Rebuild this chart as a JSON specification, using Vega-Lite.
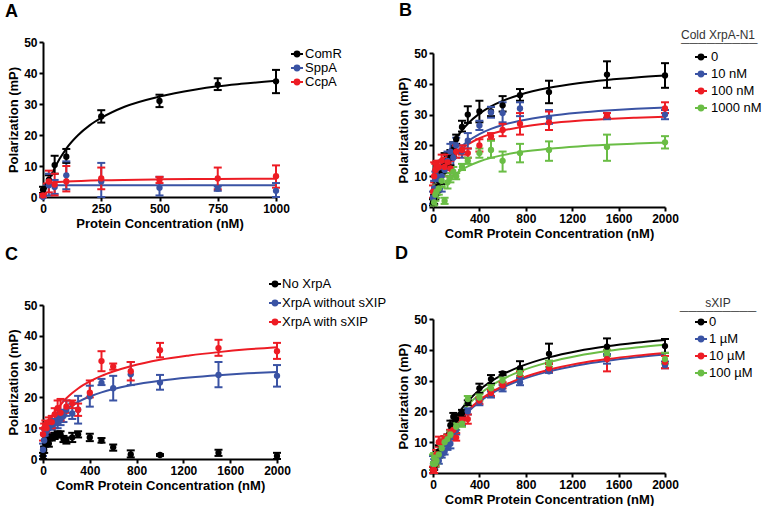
{
"$schema": "https://vega.github.io/schema/vega-lite/v6.json",
"padding": {"left": 5, "top": 2, "right": 0, "bottom": 0},
"background": "white",
"resolve": {"scale": {"color": "independent"}, "legend": {"color": "independent"}},
"datasets": {
"pts": [
{"p":"A","s":"ComR","x":0,"y":2.3,"lo":1.3,"hi":3.3},
{"p":"A","s":"ComR","x":25,"y":5.5,"lo":4,"hi":7},
{"p":"A","s":"ComR","x":50,"y":10.3,"lo":7.5,"hi":13.3},
{"p":"A","s":"ComR","x":100,"y":13,"lo":11,"hi":15.5},
{"p":"A","s":"ComR","x":250,"y":26,"lo":24,"hi":28},
{"p":"A","s":"ComR","x":500,"y":31,"lo":29,"hi":33},
{"p":"A","s":"ComR","x":750,"y":36.2,"lo":34.5,"hi":38.3},
{"p":"A","s":"ComR","x":1000,"y":37.3,"lo":33.5,"hi":41},
{"p":"A","s":"SppA","x":0,"y":0,"lo":0,"hi":0.5},
{"p":"A","s":"SppA","x":25,"y":3.8,"lo":0.5,"hi":7.5},
{"p":"A","s":"SppA","x":50,"y":3.2,"lo":1,"hi":5.5},
{"p":"A","s":"SppA","x":100,"y":7,"lo":2.5,"hi":11.5},
{"p":"A","s":"SppA","x":250,"y":5,"lo":0,"hi":11},
{"p":"A","s":"SppA","x":500,"y":3,"lo":0.5,"hi":6.5},
{"p":"A","s":"SppA","x":750,"y":2.7,"lo":2,"hi":3.4},
{"p":"A","s":"SppA","x":1000,"y":2,"lo":0,"hi":4.5},
{"p":"A","s":"CcpA","x":0,"y":0.5,"lo":0,"hi":1},
{"p":"A","s":"CcpA","x":25,"y":5,"lo":1.5,"hi":8.5},
{"p":"A","s":"CcpA","x":50,"y":4,"lo":0.5,"hi":7.5},
{"p":"A","s":"CcpA","x":100,"y":5,"lo":1.8,"hi":10},
{"p":"A","s":"CcpA","x":250,"y":6,"lo":2.5,"hi":9.5},
{"p":"A","s":"CcpA","x":500,"y":5.5,"lo":4.5,"hi":6.5},
{"p":"A","s":"CcpA","x":750,"y":6,"lo":2.5,"hi":9.5},
{"p":"A","s":"CcpA","x":1000,"y":6.7,"lo":3,"hi":10.2},
{"p":"B","s":"0","x":0,"y":1.5,"lo":0.5,"hi":2.5},
{"p":"B","s":"0","x":10,"y":2.5,"lo":1,"hi":4},
{"p":"B","s":"0","x":20,"y":4,"lo":2.5,"hi":5.5},
{"p":"B","s":"0","x":30,"y":5.5,"lo":4,"hi":7},
{"p":"B","s":"0","x":40,"y":6.5,"lo":5,"hi":8},
{"p":"B","s":"0","x":50,"y":8.5,"lo":6.5,"hi":10.5},
{"p":"B","s":"0","x":75,"y":11,"lo":7.5,"hi":15},
{"p":"B","s":"0","x":100,"y":14,"lo":11,"hi":17.5},
{"p":"B","s":"0","x":125,"y":15,"lo":13,"hi":17},
{"p":"B","s":"0","x":150,"y":16,"lo":13.5,"hi":18.5},
{"p":"B","s":"0","x":175,"y":18.5,"lo":16,"hi":21},
{"p":"B","s":"0","x":200,"y":22,"lo":20.5,"hi":23.5},
{"p":"B","s":"0","x":250,"y":26,"lo":24.5,"hi":28},
{"p":"B","s":"0","x":300,"y":30,"lo":27.3,"hi":32.7},
{"p":"B","s":"0","x":400,"y":31,"lo":27.5,"hi":34.5},
{"p":"B","s":"0","x":500,"y":31,"lo":29.5,"hi":32.5},
{"p":"B","s":"0","x":600,"y":33,"lo":31,"hi":36},
{"p":"B","s":"0","x":750,"y":36.3,"lo":34.5,"hi":38.3},
{"p":"B","s":"0","x":1000,"y":37.3,"lo":33.7,"hi":41},
{"p":"B","s":"0","x":1500,"y":43,"lo":38.7,"hi":47.3},
{"p":"B","s":"0","x":2000,"y":42.7,"lo":38.7,"hi":46.7},
{"p":"B","s":"10 nM","x":0,"y":3,"lo":1,"hi":5},
{"p":"B","s":"10 nM","x":10,"y":6,"lo":3.5,"hi":8.5},
{"p":"B","s":"10 nM","x":20,"y":9,"lo":6.5,"hi":11.5},
{"p":"B","s":"10 nM","x":30,"y":10,"lo":8,"hi":12},
{"p":"B","s":"10 nM","x":50,"y":9,"lo":6,"hi":12},
{"p":"B","s":"10 nM","x":75,"y":10,"lo":5,"hi":15},
{"p":"B","s":"10 nM","x":100,"y":12,"lo":10,"hi":14},
{"p":"B","s":"10 nM","x":125,"y":15,"lo":12,"hi":18},
{"p":"B","s":"10 nM","x":150,"y":18,"lo":15.5,"hi":20.5},
{"p":"B","s":"10 nM","x":175,"y":16,"lo":11,"hi":21},
{"p":"B","s":"10 nM","x":200,"y":20,"lo":17.5,"hi":22.5},
{"p":"B","s":"10 nM","x":250,"y":18,"lo":16,"hi":20},
{"p":"B","s":"10 nM","x":300,"y":21.5,"lo":19,"hi":24},
{"p":"B","s":"10 nM","x":400,"y":26.5,"lo":25,"hi":28},
{"p":"B","s":"10 nM","x":500,"y":30.7,"lo":29,"hi":32.5},
{"p":"B","s":"10 nM","x":600,"y":30.5,"lo":27.5,"hi":34},
{"p":"B","s":"10 nM","x":750,"y":32,"lo":29.5,"hi":34},
{"p":"B","s":"10 nM","x":1000,"y":29,"lo":27,"hi":31.5},
{"p":"B","s":"10 nM","x":1500,"y":29.5,"lo":28.5,"hi":30.5},
{"p":"B","s":"10 nM","x":2000,"y":30,"lo":28.5,"hi":31.5},
{"p":"B","s":"100 nM","x":0,"y":5,"lo":3,"hi":7},
{"p":"B","s":"100 nM","x":10,"y":10,"lo":8,"hi":14.5},
{"p":"B","s":"100 nM","x":20,"y":12,"lo":10,"hi":14},
{"p":"B","s":"100 nM","x":30,"y":12.5,"lo":10.5,"hi":15},
{"p":"B","s":"100 nM","x":50,"y":13,"lo":11,"hi":15},
{"p":"B","s":"100 nM","x":75,"y":15,"lo":13,"hi":17},
{"p":"B","s":"100 nM","x":100,"y":13,"lo":10,"hi":16},
{"p":"B","s":"100 nM","x":125,"y":14.5,"lo":12,"hi":17},
{"p":"B","s":"100 nM","x":150,"y":12.5,"lo":10,"hi":15},
{"p":"B","s":"100 nM","x":200,"y":18,"lo":16,"hi":20},
{"p":"B","s":"100 nM","x":250,"y":18.5,"lo":17,"hi":20},
{"p":"B","s":"100 nM","x":300,"y":17.5,"lo":16,"hi":19},
{"p":"B","s":"100 nM","x":400,"y":20,"lo":18,"hi":22},
{"p":"B","s":"100 nM","x":500,"y":23,"lo":22,"hi":24},
{"p":"B","s":"100 nM","x":600,"y":25,"lo":23,"hi":27},
{"p":"B","s":"100 nM","x":750,"y":27,"lo":23.5,"hi":30.5},
{"p":"B","s":"100 nM","x":1000,"y":27.5,"lo":25,"hi":31},
{"p":"B","s":"100 nM","x":1500,"y":29.7,"lo":29,"hi":30.5},
{"p":"B","s":"100 nM","x":2000,"y":32,"lo":30.5,"hi":34},
{"p":"B","s":"1000 nM","x":10,"y":1.5,"lo":0.5,"hi":2.5},
{"p":"B","s":"1000 nM","x":20,"y":4,"lo":2,"hi":6},
{"p":"B","s":"1000 nM","x":30,"y":5,"lo":3,"hi":7},
{"p":"B","s":"1000 nM","x":50,"y":6,"lo":4,"hi":8},
{"p":"B","s":"1000 nM","x":75,"y":8.5,"lo":6.5,"hi":10.5},
{"p":"B","s":"1000 nM","x":100,"y":2,"lo":1,"hi":3},
{"p":"B","s":"1000 nM","x":125,"y":8,"lo":6,"hi":10},
{"p":"B","s":"1000 nM","x":150,"y":9.5,"lo":8,"hi":11},
{"p":"B","s":"1000 nM","x":175,"y":11.5,"lo":10,"hi":13},
{"p":"B","s":"1000 nM","x":200,"y":10,"lo":9,"hi":11},
{"p":"B","s":"1000 nM","x":250,"y":13,"lo":12,"hi":14},
{"p":"B","s":"1000 nM","x":300,"y":15,"lo":14,"hi":16},
{"p":"B","s":"1000 nM","x":400,"y":17.5,"lo":16,"hi":19},
{"p":"B","s":"1000 nM","x":500,"y":18.5,"lo":16,"hi":21.5},
{"p":"B","s":"1000 nM","x":600,"y":15,"lo":11.5,"hi":18},
{"p":"B","s":"1000 nM","x":750,"y":17.5,"lo":14.5,"hi":20.5},
{"p":"B","s":"1000 nM","x":1000,"y":18.5,"lo":15,"hi":21.3},
{"p":"B","s":"1000 nM","x":1500,"y":19.5,"lo":15,"hi":23.5},
{"p":"B","s":"1000 nM","x":2000,"y":21,"lo":19,"hi":23},
{"p":"C","s":"No XrpA","x":0,"y":1,"lo":0,"hi":2},
{"p":"C","s":"No XrpA","x":10,"y":3,"lo":2,"hi":4},
{"p":"C","s":"No XrpA","x":20,"y":5,"lo":4,"hi":6},
{"p":"C","s":"No XrpA","x":30,"y":6,"lo":5,"hi":7},
{"p":"C","s":"No XrpA","x":50,"y":5,"lo":4,"hi":6},
{"p":"C","s":"No XrpA","x":75,"y":7,"lo":6,"hi":8},
{"p":"C","s":"No XrpA","x":100,"y":7.5,"lo":6.5,"hi":8.5},
{"p":"C","s":"No XrpA","x":125,"y":8,"lo":7,"hi":9},
{"p":"C","s":"No XrpA","x":150,"y":8,"lo":7,"hi":9},
{"p":"C","s":"No XrpA","x":175,"y":6.5,"lo":5.5,"hi":7.5},
{"p":"C","s":"No XrpA","x":200,"y":6,"lo":5,"hi":7},
{"p":"C","s":"No XrpA","x":250,"y":7,"lo":5.5,"hi":8.5},
{"p":"C","s":"No XrpA","x":300,"y":8,"lo":7,"hi":9},
{"p":"C","s":"No XrpA","x":400,"y":7,"lo":5.8,"hi":8.2},
{"p":"C","s":"No XrpA","x":500,"y":6,"lo":5.3,"hi":6.8},
{"p":"C","s":"No XrpA","x":600,"y":3.8,"lo":2.7,"hi":4.7},
{"p":"C","s":"No XrpA","x":750,"y":1.5,"lo":0.5,"hi":2.8},
{"p":"C","s":"No XrpA","x":1000,"y":1.3,"lo":1,"hi":1.6},
{"p":"C","s":"No XrpA","x":1500,"y":2,"lo":1,"hi":3},
{"p":"C","s":"No XrpA","x":2000,"y":1,"lo":0,"hi":2},
{"p":"C","s":"XrpA without sXIP","x":0,"y":3,"lo":1,"hi":5},
{"p":"C","s":"XrpA without sXIP","x":10,"y":6,"lo":4,"hi":8},
{"p":"C","s":"XrpA without sXIP","x":20,"y":8,"lo":6.5,"hi":9.5},
{"p":"C","s":"XrpA without sXIP","x":30,"y":9,"lo":7.5,"hi":10.5},
{"p":"C","s":"XrpA without sXIP","x":50,"y":10,"lo":8.5,"hi":11.5},
{"p":"C","s":"XrpA without sXIP","x":75,"y":11,"lo":9.5,"hi":12.5},
{"p":"C","s":"XrpA without sXIP","x":100,"y":11.5,"lo":10,"hi":13},
{"p":"C","s":"XrpA without sXIP","x":125,"y":12,"lo":10,"hi":14},
{"p":"C","s":"XrpA without sXIP","x":150,"y":13,"lo":11,"hi":15},
{"p":"C","s":"XrpA without sXIP","x":175,"y":14,"lo":12,"hi":16},
{"p":"C","s":"XrpA without sXIP","x":200,"y":16,"lo":14,"hi":19},
{"p":"C","s":"XrpA without sXIP","x":250,"y":14.8,"lo":13,"hi":18},
{"p":"C","s":"XrpA without sXIP","x":300,"y":16,"lo":11.5,"hi":20.5},
{"p":"C","s":"XrpA without sXIP","x":400,"y":20.3,"lo":17,"hi":23.8},
{"p":"C","s":"XrpA without sXIP","x":500,"y":24.7,"lo":24,"hi":26},
{"p":"C","s":"XrpA without sXIP","x":600,"y":23,"lo":19,"hi":27},
{"p":"C","s":"XrpA without sXIP","x":750,"y":27.5,"lo":24,"hi":31.5},
{"p":"C","s":"XrpA without sXIP","x":1000,"y":24.8,"lo":22.5,"hi":27.3},
{"p":"C","s":"XrpA without sXIP","x":1500,"y":27.3,"lo":23.3,"hi":31.5},
{"p":"C","s":"XrpA without sXIP","x":2000,"y":27,"lo":23.5,"hi":30.5},
{"p":"C","s":"XrpA with sXIP","x":0,"y":8,"lo":6,"hi":10},
{"p":"C","s":"XrpA with sXIP","x":10,"y":10,"lo":8.5,"hi":11.5},
{"p":"C","s":"XrpA with sXIP","x":20,"y":11,"lo":9.5,"hi":12.5},
{"p":"C","s":"XrpA with sXIP","x":30,"y":10,"lo":8.5,"hi":11.5},
{"p":"C","s":"XrpA with sXIP","x":50,"y":12,"lo":10.5,"hi":13.5},
{"p":"C","s":"XrpA with sXIP","x":75,"y":12,"lo":10,"hi":14},
{"p":"C","s":"XrpA with sXIP","x":100,"y":14.5,"lo":12.5,"hi":16.5},
{"p":"C","s":"XrpA with sXIP","x":125,"y":16.5,"lo":14,"hi":19},
{"p":"C","s":"XrpA with sXIP","x":150,"y":15,"lo":12.5,"hi":19.5},
{"p":"C","s":"XrpA with sXIP","x":200,"y":17,"lo":15,"hi":19},
{"p":"C","s":"XrpA with sXIP","x":250,"y":18,"lo":16.5,"hi":19},
{"p":"C","s":"XrpA with sXIP","x":300,"y":16,"lo":14,"hi":18},
{"p":"C","s":"XrpA with sXIP","x":400,"y":21.5,"lo":20,"hi":25.5},
{"p":"C","s":"XrpA with sXIP","x":500,"y":31.8,"lo":28.5,"hi":35},
{"p":"C","s":"XrpA with sXIP","x":600,"y":30,"lo":29,"hi":31},
{"p":"C","s":"XrpA with sXIP","x":750,"y":28.5,"lo":25.5,"hi":31.5},
{"p":"C","s":"XrpA with sXIP","x":1000,"y":35.3,"lo":33,"hi":37.7},
{"p":"C","s":"XrpA with sXIP","x":1500,"y":36,"lo":33.5,"hi":38.7},
{"p":"C","s":"XrpA with sXIP","x":2000,"y":35,"lo":32.5,"hi":37.7},
{"p":"D","s":"0","x":0,"y":1,"lo":0,"hi":2},
{"p":"D","s":"0","x":10,"y":2,"lo":1,"hi":3},
{"p":"D","s":"0","x":20,"y":3,"lo":2,"hi":4},
{"p":"D","s":"0","x":30,"y":5,"lo":3.5,"hi":6.5},
{"p":"D","s":"0","x":50,"y":7,"lo":5,"hi":9},
{"p":"D","s":"0","x":75,"y":7.5,"lo":6,"hi":9},
{"p":"D","s":"0","x":100,"y":10.5,"lo":9,"hi":12},
{"p":"D","s":"0","x":125,"y":11,"lo":9.5,"hi":12.5},
{"p":"D","s":"0","x":150,"y":15.5,"lo":14,"hi":17},
{"p":"D","s":"0","x":175,"y":18.3,"lo":17,"hi":19.5},
{"p":"D","s":"0","x":200,"y":17.5,"lo":16,"hi":19},
{"p":"D","s":"0","x":250,"y":19.5,"lo":18.5,"hi":20.5},
{"p":"D","s":"0","x":300,"y":22.8,"lo":22,"hi":23.6},
{"p":"D","s":"0","x":400,"y":27.5,"lo":26,"hi":29},
{"p":"D","s":"0","x":500,"y":30.5,"lo":29,"hi":31.8},
{"p":"D","s":"0","x":600,"y":32.3,"lo":31.8,"hi":32.8},
{"p":"D","s":"0","x":750,"y":34,"lo":31.5,"hi":36.3},
{"p":"D","s":"0","x":1000,"y":38.7,"lo":35.5,"hi":42},
{"p":"D","s":"0","x":1500,"y":41,"lo":38.5,"hi":43.7},
{"p":"D","s":"0","x":2000,"y":41.2,"lo":39,"hi":43.5},
{"p":"D","s":"1 µM","x":0,"y":3,"lo":1,"hi":5.5},
{"p":"D","s":"1 µM","x":10,"y":3,"lo":1.5,"hi":4.5},
{"p":"D","s":"1 µM","x":20,"y":4,"lo":2.5,"hi":5.5},
{"p":"D","s":"1 µM","x":30,"y":5,"lo":3.5,"hi":6.5},
{"p":"D","s":"1 µM","x":50,"y":4,"lo":3,"hi":5},
{"p":"D","s":"1 µM","x":75,"y":6,"lo":5,"hi":7},
{"p":"D","s":"1 µM","x":100,"y":7,"lo":6,"hi":8},
{"p":"D","s":"1 µM","x":125,"y":9,"lo":7.5,"hi":10.5},
{"p":"D","s":"1 µM","x":150,"y":9.5,"lo":8,"hi":11},
{"p":"D","s":"1 µM","x":175,"y":12.5,"lo":11,"hi":14},
{"p":"D","s":"1 µM","x":200,"y":14,"lo":12.5,"hi":15.5},
{"p":"D","s":"1 µM","x":250,"y":16.5,"lo":15.5,"hi":17.5},
{"p":"D","s":"1 µM","x":300,"y":20,"lo":19,"hi":21},
{"p":"D","s":"1 µM","x":400,"y":23,"lo":22,"hi":24},
{"p":"D","s":"1 µM","x":500,"y":25.5,"lo":24.5,"hi":26.5},
{"p":"D","s":"1 µM","x":600,"y":27.5,"lo":26.5,"hi":28.5},
{"p":"D","s":"1 µM","x":750,"y":29.5,"lo":28.5,"hi":30.8},
{"p":"D","s":"1 µM","x":1000,"y":33,"lo":32.5,"hi":33.5},
{"p":"D","s":"1 µM","x":1500,"y":37,"lo":35.5,"hi":38.5},
{"p":"D","s":"1 µM","x":2000,"y":35,"lo":34,"hi":36.2},
{"p":"D","s":"10 µM","x":0,"y":1,"lo":0,"hi":2},
{"p":"D","s":"10 µM","x":10,"y":1,"lo":0,"hi":2},
{"p":"D","s":"10 µM","x":20,"y":4,"lo":2.5,"hi":5.5},
{"p":"D","s":"10 µM","x":30,"y":6,"lo":4.5,"hi":7.5},
{"p":"D","s":"10 µM","x":50,"y":10,"lo":8.5,"hi":11.8},
{"p":"D","s":"10 µM","x":75,"y":10,"lo":9,"hi":11},
{"p":"D","s":"10 µM","x":100,"y":11,"lo":10,"hi":12},
{"p":"D","s":"10 µM","x":125,"y":11.5,"lo":10.5,"hi":12.5},
{"p":"D","s":"10 µM","x":150,"y":13,"lo":12,"hi":14},
{"p":"D","s":"10 µM","x":175,"y":14,"lo":13,"hi":15},
{"p":"D","s":"10 µM","x":200,"y":11.5,"lo":10.5,"hi":13},
{"p":"D","s":"10 µM","x":250,"y":17,"lo":16,"hi":18},
{"p":"D","s":"10 µM","x":300,"y":17.5,"lo":16,"hi":19},
{"p":"D","s":"10 µM","x":400,"y":23.5,"lo":22.5,"hi":24.5},
{"p":"D","s":"10 µM","x":500,"y":26,"lo":25,"hi":27},
{"p":"D","s":"10 µM","x":600,"y":28.5,"lo":27.5,"hi":29.5},
{"p":"D","s":"10 µM","x":750,"y":32,"lo":31,"hi":33},
{"p":"D","s":"10 µM","x":1000,"y":34,"lo":33,"hi":35.5},
{"p":"D","s":"10 µM","x":1500,"y":37,"lo":33,"hi":40},
{"p":"D","s":"10 µM","x":2000,"y":36,"lo":34,"hi":38},
{"p":"D","s":"100 µM","x":0,"y":3,"lo":1,"hi":6},
{"p":"D","s":"100 µM","x":10,"y":5,"lo":3.5,"hi":6.5},
{"p":"D","s":"100 µM","x":20,"y":3,"lo":2,"hi":4},
{"p":"D","s":"100 µM","x":30,"y":4,"lo":3,"hi":5},
{"p":"D","s":"100 µM","x":50,"y":6,"lo":5,"hi":7},
{"p":"D","s":"100 µM","x":75,"y":8,"lo":7,"hi":9},
{"p":"D","s":"100 µM","x":100,"y":10,"lo":9,"hi":11},
{"p":"D","s":"100 µM","x":125,"y":11,"lo":10,"hi":12},
{"p":"D","s":"100 µM","x":150,"y":12.5,"lo":11.5,"hi":13.5},
{"p":"D","s":"100 µM","x":200,"y":15,"lo":14,"hi":16},
{"p":"D","s":"100 µM","x":250,"y":16,"lo":15,"hi":17},
{"p":"D","s":"100 µM","x":300,"y":24,"lo":22.5,"hi":25},
{"p":"D","s":"100 µM","x":400,"y":24.5,"lo":23.5,"hi":25.5},
{"p":"D","s":"100 µM","x":500,"y":27.5,"lo":26.5,"hi":28.5},
{"p":"D","s":"100 µM","x":600,"y":30,"lo":29,"hi":31},
{"p":"D","s":"100 µM","x":750,"y":32.5,"lo":31.5,"hi":33.5},
{"p":"D","s":"100 µM","x":1000,"y":35.5,"lo":34.5,"hi":36.5},
{"p":"D","s":"100 µM","x":1500,"y":39,"lo":38,"hi":40},
{"p":"D","s":"100 µM","x":2000,"y":37,"lo":35.5,"hi":39}
],
"fit": [
{"p":"A","s":"ComR","x":0,"y":0},{"p":"A","s":"ComR","x":25,"y":5.3},{"p":"A","s":"ComR","x":50,"y":9.4},{"p":"A","s":"ComR","x":100,"y":15.6},{"p":"A","s":"ComR","x":150,"y":19.9},{"p":"A","s":"ComR","x":200,"y":23.1},{"p":"A","s":"ComR","x":250,"y":25.5},{"p":"A","s":"ComR","x":350,"y":29.1},{"p":"A","s":"ComR","x":500,"y":32.4},{"p":"A","s":"ComR","x":650,"y":34.6},{"p":"A","s":"ComR","x":750,"y":35.7},{"p":"A","s":"ComR","x":850,"y":36.5},{"p":"A","s":"ComR","x":1000,"y":37.5},
{"p":"A","s":"SppA","x":0,"y":3.8},{"p":"A","s":"SppA","x":1000,"y":3.8},
{"p":"A","s":"CcpA","x":0,"y":4.3},{"p":"A","s":"CcpA","x":50,"y":4.8},{"p":"A","s":"CcpA","x":100,"y":5.0},{"p":"A","s":"CcpA","x":250,"y":5.4},{"p":"A","s":"CcpA","x":500,"y":5.7},{"p":"A","s":"CcpA","x":750,"y":5.8},{"p":"A","s":"CcpA","x":1000,"y":5.9},
{"p":"B","s":"0","x":0,"y":0},{"p":"B","s":"0","x":25,"y":4.71},{"p":"B","s":"0","x":50,"y":8.57},{"p":"B","s":"0","x":100,"y":14.53},{"p":"B","s":"0","x":150,"y":18.9},{"p":"B","s":"0","x":200,"y":22.25},{"p":"B","s":"0","x":250,"y":24.9},{"p":"B","s":"0","x":300,"y":27.04},{"p":"B","s":"0","x":400,"y":30.3},{"p":"B","s":"0","x":500,"y":32.67},{"p":"B","s":"0","x":600,"y":34.46},{"p":"B","s":"0","x":750,"y":36.46},{"p":"B","s":"0","x":1000,"y":38.71},{"p":"B","s":"0","x":1250,"y":40.2},{"p":"B","s":"0","x":1500,"y":41.26},{"p":"B","s":"0","x":1750,"y":42.05},{"p":"B","s":"0","x":2000,"y":42.66},
{"p":"B","s":"10 nM","x":0,"y":0},{"p":"B","s":"10 nM","x":25,"y":3.94},{"p":"B","s":"10 nM","x":50,"y":7.1},{"p":"B","s":"10 nM","x":100,"y":11.83},{"p":"B","s":"10 nM","x":150,"y":15.21},{"p":"B","s":"10 nM","x":200,"y":17.75},{"p":"B","s":"10 nM","x":250,"y":19.72},{"p":"B","s":"10 nM","x":300,"y":21.3},{"p":"B","s":"10 nM","x":400,"y":23.67},{"p":"B","s":"10 nM","x":500,"y":25.36},{"p":"B","s":"10 nM","x":600,"y":26.63},{"p":"B","s":"10 nM","x":750,"y":28.03},{"p":"B","s":"10 nM","x":1000,"y":29.58},{"p":"B","s":"10 nM","x":1250,"y":30.6},{"p":"B","s":"10 nM","x":1500,"y":31.32},{"p":"B","s":"10 nM","x":1750,"y":31.86},{"p":"B","s":"10 nM","x":2000,"y":32.27},
{"p":"B","s":"100 nM","x":0,"y":0},{"p":"B","s":"100 nM","x":25,"y":4.08},{"p":"B","s":"100 nM","x":50,"y":7.23},{"p":"B","s":"100 nM","x":100,"y":11.78},{"p":"B","s":"100 nM","x":150,"y":14.91},{"p":"B","s":"100 nM","x":200,"y":17.19},{"p":"B","s":"100 nM","x":250,"y":18.93},{"p":"B","s":"100 nM","x":300,"y":20.3},{"p":"B","s":"100 nM","x":400,"y":22.32},{"p":"B","s":"100 nM","x":500,"y":23.73},{"p":"B","s":"100 nM","x":600,"y":24.78},{"p":"B","s":"100 nM","x":750,"y":25.92},{"p":"B","s":"100 nM","x":1000,"y":27.18},{"p":"B","s":"100 nM","x":1250,"y":27.99},{"p":"B","s":"100 nM","x":1500,"y":28.56},{"p":"B","s":"100 nM","x":1750,"y":28.98},{"p":"B","s":"100 nM","x":2000,"y":29.31},
{"p":"B","s":"1000 nM","x":0,"y":0},{"p":"B","s":"1000 nM","x":25,"y":2.28},{"p":"B","s":"1000 nM","x":50,"y":4.16},{"p":"B","s":"1000 nM","x":100,"y":7.06},{"p":"B","s":"1000 nM","x":150,"y":9.2},{"p":"B","s":"1000 nM","x":200,"y":10.84},{"p":"B","s":"1000 nM","x":250,"y":12.14},{"p":"B","s":"1000 nM","x":300,"y":13.19},{"p":"B","s":"1000 nM","x":400,"y":14.79},{"p":"B","s":"1000 nM","x":500,"y":15.96},{"p":"B","s":"1000 nM","x":600,"y":16.84},{"p":"B","s":"1000 nM","x":750,"y":17.83},{"p":"B","s":"1000 nM","x":1000,"y":18.94},{"p":"B","s":"1000 nM","x":1250,"y":19.68},{"p":"B","s":"1000 nM","x":1500,"y":20.2},{"p":"B","s":"1000 nM","x":1750,"y":20.59},{"p":"B","s":"1000 nM","x":2000,"y":20.9},
{"p":"C","s":"XrpA without sXIP","x":0,"y":8},{"p":"C","s":"XrpA without sXIP","x":25,"y":9.46},{"p":"C","s":"XrpA without sXIP","x":50,"y":10.76},{"p":"C","s":"XrpA without sXIP","x":100,"y":12.96},{"p":"C","s":"XrpA without sXIP","x":150,"y":14.75},{"p":"C","s":"XrpA without sXIP","x":200,"y":16.23},{"p":"C","s":"XrpA without sXIP","x":250,"y":17.48},{"p":"C","s":"XrpA without sXIP","x":300,"y":18.55},{"p":"C","s":"XrpA without sXIP","x":400,"y":20.28},{"p":"C","s":"XrpA without sXIP","x":500,"y":21.63},{"p":"C","s":"XrpA without sXIP","x":600,"y":22.7},{"p":"C","s":"XrpA without sXIP","x":750,"y":23.95},{"p":"C","s":"XrpA without sXIP","x":1000,"y":25.44},{"p":"C","s":"XrpA without sXIP","x":1250,"y":26.47},{"p":"C","s":"XrpA without sXIP","x":1500,"y":27.23},{"p":"C","s":"XrpA without sXIP","x":1750,"y":27.81},{"p":"C","s":"XrpA without sXIP","x":2000,"y":28.27},
{"p":"C","s":"XrpA with sXIP","x":0,"y":8.5},{"p":"C","s":"XrpA with sXIP","x":25,"y":10.5},{"p":"C","s":"XrpA with sXIP","x":50,"y":12.3},{"p":"C","s":"XrpA with sXIP","x":100,"y":15.2},{"p":"C","s":"XrpA with sXIP","x":150,"y":17.6},{"p":"C","s":"XrpA with sXIP","x":200,"y":19.7},{"p":"C","s":"XrpA with sXIP","x":250,"y":21.4},{"p":"C","s":"XrpA with sXIP","x":300,"y":22.9},{"p":"C","s":"XrpA with sXIP","x":400,"y":25.2},{"p":"C","s":"XrpA with sXIP","x":500,"y":27.0},{"p":"C","s":"XrpA with sXIP","x":600,"y":28.4},{"p":"C","s":"XrpA with sXIP","x":750,"y":30.1},{"p":"C","s":"XrpA with sXIP","x":1000,"y":32.2},{"p":"C","s":"XrpA with sXIP","x":1250,"y":33.6},{"p":"C","s":"XrpA with sXIP","x":1500,"y":34.7},{"p":"C","s":"XrpA with sXIP","x":1750,"y":35.6},{"p":"C","s":"XrpA with sXIP","x":2000,"y":36.3},
{"p":"D","s":"0","x":0,"y":0},{"p":"D","s":"0","x":25,"y":3.34},{"p":"D","s":"0","x":50,"y":6.27},{"p":"D","s":"0","x":100,"y":11.16},{"p":"D","s":"0","x":150,"y":15.09},{"p":"D","s":"0","x":200,"y":18.31},{"p":"D","s":"0","x":250,"y":21.0},{"p":"D","s":"0","x":300,"y":23.28},{"p":"D","s":"0","x":400,"y":26.93},{"p":"D","s":"0","x":500,"y":29.73},{"p":"D","s":"0","x":600,"y":31.95},{"p":"D","s":"0","x":750,"y":34.52},{"p":"D","s":"0","x":1000,"y":37.54},{"p":"D","s":"0","x":1250,"y":39.62},{"p":"D","s":"0","x":1500,"y":41.14},{"p":"D","s":"0","x":1750,"y":42.3},{"p":"D","s":"0","x":2000,"y":43.21},
{"p":"D","s":"1 µM","x":0,"y":0},{"p":"D","s":"1 µM","x":25,"y":2.72},{"p":"D","s":"1 µM","x":50,"y":5.13},{"p":"D","s":"1 µM","x":100,"y":9.24},{"p":"D","s":"1 µM","x":150,"y":12.6},{"p":"D","s":"1 µM","x":200,"y":15.4},{"p":"D","s":"1 µM","x":250,"y":17.77},{"p":"D","s":"1 µM","x":300,"y":19.8},{"p":"D","s":"1 µM","x":400,"y":23.1},{"p":"D","s":"1 µM","x":500,"y":25.67},{"p":"D","s":"1 µM","x":600,"y":27.72},{"p":"D","s":"1 µM","x":750,"y":30.13},{"p":"D","s":"1 µM","x":1000,"y":33.0},{"p":"D","s":"1 µM","x":1250,"y":35.0},{"p":"D","s":"1 µM","x":1500,"y":36.47},{"p":"D","s":"1 µM","x":1750,"y":37.6},{"p":"D","s":"1 µM","x":2000,"y":38.5},
{"p":"D","s":"10 µM","x":0,"y":0},{"p":"D","s":"10 µM","x":25,"y":2.81},{"p":"D","s":"10 µM","x":50,"y":5.3},{"p":"D","s":"10 µM","x":100,"y":9.51},{"p":"D","s":"10 µM","x":150,"y":12.94},{"p":"D","s":"10 µM","x":200,"y":15.8},{"p":"D","s":"10 µM","x":250,"y":18.2},{"p":"D","s":"10 µM","x":300,"y":20.26},{"p":"D","s":"10 µM","x":400,"y":23.59},{"p":"D","s":"10 µM","x":500,"y":26.18},{"p":"D","s":"10 µM","x":600,"y":28.24},{"p":"D","s":"10 µM","x":750,"y":30.66},{"p":"D","s":"10 µM","x":1000,"y":33.53},{"p":"D","s":"10 µM","x":1250,"y":35.52},{"p":"D","s":"10 µM","x":1500,"y":36.98},{"p":"D","s":"10 µM","x":1750,"y":38.11},{"p":"D","s":"10 µM","x":2000,"y":39.0},
{"p":"D","s":"100 µM","x":0,"y":0},{"p":"D","s":"100 µM","x":25,"y":3.09},{"p":"D","s":"100 µM","x":50,"y":5.82},{"p":"D","s":"100 µM","x":100,"y":10.42},{"p":"D","s":"100 µM","x":150,"y":14.14},{"p":"D","s":"100 µM","x":200,"y":17.22},{"p":"D","s":"100 µM","x":250,"y":19.8},{"p":"D","s":"100 µM","x":300,"y":22.0},{"p":"D","s":"100 µM","x":400,"y":25.55},{"p":"D","s":"100 µM","x":500,"y":28.29},{"p":"D","s":"100 µM","x":600,"y":30.46},{"p":"D","s":"100 µM","x":750,"y":33.0},{"p":"D","s":"100 µM","x":1000,"y":36.0},{"p":"D","s":"100 µM","x":1250,"y":38.08},{"p":"D","s":"100 µM","x":1500,"y":39.6},{"p":"D","s":"100 µM","x":1750,"y":40.76},{"p":"D","s":"100 µM","x":2000,"y":41.68}
]
},
"columns": 2,
"spacing": {"row": 5, "column": 8},
"concat": [
{
"name": "pA",
"width": 233, "height": 155,
"title": {"text": "A", "anchor": "start", "frame": "group", "dx": -38, "offset": 15},
"layer": [
{"data": {"name": "fit"}, "transform": [{"filter": "datum.p == 'A'"}],
 "mark": {"type": "line", "interpolate": "monotone", "strokeWidth": 2},
 "encoding": {
  "x": {"field": "x", "type": "quantitative", "scale": {"domain": [0, 1000], "nice": false}, "axis": {"values": [0, 250, 500, 750, 1000], "format": "d", "title": "Protein Concentration (nM)"}},
  "y": {"field": "y", "type": "quantitative", "scale": {"domain": [0, 50], "nice": false}, "axis": {"values": [0, 10, 20, 30, 40, 50], "tickCount": 6, "labelOverlap": false, "format": "d", "title": "Polarization (mP)"}},
  "color": {"field": "s", "type": "nominal", "scale": {"domain": ["ComR", "SppA", "CcpA"], "range": ["#000000", "#3a53a4", "#ed1c24"]},
   "legend": {"orient": "none", "legendX": 247, "legendY": 5, "title": null, "rowPadding": 0, "labelOffset": 1}}
 }},
{"data": {"name": "pts"}, "transform": [{"filter": "datum.p == 'A'"}],
 "mark": {"type": "rule", "strokeWidth": 2},
 "encoding": {"x": {"field": "x", "type": "quantitative"}, "y": {"field": "lo", "type": "quantitative", "axis": {"values": [0, 10, 20, 30, 40, 50], "tickCount": 6, "labelOverlap": false, "format": "d", "title": "Polarization (mP)"}}, "y2": {"field": "hi"}, "color": {"field": "s", "type": "nominal"}}},
{"data": {"name": "pts"}, "transform": [{"filter": "datum.p == 'A'"}],
 "mark": {"type": "point", "shape": "stroke", "size": 64, "strokeWidth": 2, "filled": false, "opacity": 1},
 "encoding": {"x": {"field": "x", "type": "quantitative"}, "y": {"field": "lo", "type": "quantitative", "axis": {"values": [0, 10, 20, 30, 40, 50], "tickCount": 6, "labelOverlap": false, "format": "d", "title": "Polarization (mP)"}}, "color": {"field": "s", "type": "nominal"}}},
{"data": {"name": "pts"}, "transform": [{"filter": "datum.p == 'A'"}],
 "mark": {"type": "point", "shape": "stroke", "size": 64, "strokeWidth": 2, "filled": false, "opacity": 1},
 "encoding": {"x": {"field": "x", "type": "quantitative"}, "y": {"field": "hi", "type": "quantitative", "axis": {"values": [0, 10, 20, 30, 40, 50], "tickCount": 6, "labelOverlap": false, "format": "d", "title": "Polarization (mP)"}}, "color": {"field": "s", "type": "nominal"}}},
{"data": {"name": "pts"}, "transform": [{"filter": "datum.p == 'A'"}],
 "mark": {"type": "point", "filled": true, "size": 40, "opacity": 1},
 "encoding": {"x": {"field": "x", "type": "quantitative"}, "y": {"field": "y", "type": "quantitative", "axis": {"values": [0, 10, 20, 30, 40, 50], "tickCount": 6, "labelOverlap": false, "format": "d", "title": "Polarization (mP)"}}, "color": {"field": "s", "type": "nominal"}}}
]
},
{
"name": "pB",
"width": 232, "height": 165,
"title": {"text": "B", "anchor": "start", "frame": "group", "dx": -34, "offset": 10},
"layer": [
{"data": {"name": "fit"}, "transform": [{"filter": "datum.p == 'B'"}],
 "mark": {"type": "line", "interpolate": "monotone", "strokeWidth": 2},
 "encoding": {
  "x": {"field": "x", "type": "quantitative", "scale": {"domain": [0, 2000], "nice": false}, "axis": {"values": [0, 400, 800, 1200, 1600, 2000], "format": "d", "title": "ComR Protein Concentration (nM)"}},
  "y": {"field": "y", "type": "quantitative", "scale": {"domain": [0, 50], "nice": false, "range": [165, 11]}, "axis": {"values": [0, 10, 20, 30, 40, 50], "tickCount": 6, "labelOverlap": false, "format": "d", "title": "Polarization (mP)"}},
  "color": {"field": "s", "type": "nominal", "scale": {"domain": ["0", "10 nM", "100 nM", "1000 nM"], "range": ["#000000", "#3a53a4", "#ed1c24", "#6abd45"]},
   "legend": {"orient": "none", "legendX": 248, "legendY": -12, "title": ["Cold XrpA-N1", "─────────"], "titleAnchor": "start", "titleLineHeight": 8, "titlePadding": 0, "symbolOffset": 13, "rowPadding": 3, "labelOffset": 3}}
 }},
{"data": {"name": "pts"}, "transform": [{"filter": "datum.p == 'B'"}],
 "mark": {"type": "rule", "strokeWidth": 2},
 "encoding": {"x": {"field": "x", "type": "quantitative"}, "y": {"field": "lo", "type": "quantitative", "axis": {"values": [0, 10, 20, 30, 40, 50], "tickCount": 6, "labelOverlap": false, "format": "d", "title": "Polarization (mP)"}}, "y2": {"field": "hi"}, "color": {"field": "s", "type": "nominal"}}},
{"data": {"name": "pts"}, "transform": [{"filter": "datum.p == 'B'"}],
 "mark": {"type": "point", "shape": "stroke", "size": 64, "strokeWidth": 2, "filled": false, "opacity": 1},
 "encoding": {"x": {"field": "x", "type": "quantitative"}, "y": {"field": "lo", "type": "quantitative", "axis": {"values": [0, 10, 20, 30, 40, 50], "tickCount": 6, "labelOverlap": false, "format": "d", "title": "Polarization (mP)"}}, "color": {"field": "s", "type": "nominal"}}},
{"data": {"name": "pts"}, "transform": [{"filter": "datum.p == 'B'"}],
 "mark": {"type": "point", "shape": "stroke", "size": 64, "strokeWidth": 2, "filled": false, "opacity": 1},
 "encoding": {"x": {"field": "x", "type": "quantitative"}, "y": {"field": "hi", "type": "quantitative", "axis": {"values": [0, 10, 20, 30, 40, 50], "tickCount": 6, "labelOverlap": false, "format": "d", "title": "Polarization (mP)"}}, "color": {"field": "s", "type": "nominal"}}},
{"data": {"name": "pts"}, "transform": [{"filter": "datum.p == 'B'"}],
 "mark": {"type": "point", "filled": true, "size": 40, "opacity": 1},
 "encoding": {"x": {"field": "x", "type": "quantitative"}, "y": {"field": "y", "type": "quantitative", "axis": {"values": [0, 10, 20, 30, 40, 50], "tickCount": 6, "labelOverlap": false, "format": "d", "title": "Polarization (mP)"}}, "color": {"field": "s", "type": "nominal"}}}
]
},
{
"name": "pC",
"width": 234, "height": 154,
"title": {"text": "C", "anchor": "start", "frame": "group", "dx": -38, "offset": 13},
"layer": [
{"data": {"name": "fit"}, "transform": [{"filter": "datum.p == 'C'"}],
 "mark": {"type": "line", "interpolate": "monotone", "strokeWidth": 2},
 "encoding": {
  "x": {"field": "x", "type": "quantitative", "scale": {"domain": [0, 2000], "nice": false}, "axis": {"values": [0, 400, 800, 1200, 1600, 2000], "format": "d", "title": "ComR Protein Concentration (nM)"}},
  "y": {"field": "y", "type": "quantitative", "scale": {"domain": [0, 50], "nice": false}, "axis": {"values": [0, 10, 20, 30, 40, 50], "tickCount": 6, "labelOverlap": false, "format": "d", "title": "Polarization (mP)"}},
  "color": {"field": "s", "type": "nominal", "scale": {"domain": ["No XrpA", "XrpA without sXIP", "XrpA with sXIP"], "range": ["#000000", "#3a53a4", "#ed1c24"]},
   "legend": {"orient": "none", "legendX": 225, "legendY": -28, "title": null, "rowPadding": 5, "labelOffset": 0}}
 }},
{"data": {"name": "pts"}, "transform": [{"filter": "datum.p == 'C'"}],
 "mark": {"type": "rule", "strokeWidth": 2},
 "encoding": {"x": {"field": "x", "type": "quantitative"}, "y": {"field": "lo", "type": "quantitative", "axis": {"values": [0, 10, 20, 30, 40, 50], "tickCount": 6, "labelOverlap": false, "format": "d", "title": "Polarization (mP)"}}, "y2": {"field": "hi"}, "color": {"field": "s", "type": "nominal"}}},
{"data": {"name": "pts"}, "transform": [{"filter": "datum.p == 'C'"}],
 "mark": {"type": "point", "shape": "stroke", "size": 64, "strokeWidth": 2, "filled": false, "opacity": 1},
 "encoding": {"x": {"field": "x", "type": "quantitative"}, "y": {"field": "lo", "type": "quantitative", "axis": {"values": [0, 10, 20, 30, 40, 50], "tickCount": 6, "labelOverlap": false, "format": "d", "title": "Polarization (mP)"}}, "color": {"field": "s", "type": "nominal"}}},
{"data": {"name": "pts"}, "transform": [{"filter": "datum.p == 'C'"}],
 "mark": {"type": "point", "shape": "stroke", "size": 64, "strokeWidth": 2, "filled": false, "opacity": 1},
 "encoding": {"x": {"field": "x", "type": "quantitative"}, "y": {"field": "hi", "type": "quantitative", "axis": {"values": [0, 10, 20, 30, 40, 50], "tickCount": 6, "labelOverlap": false, "format": "d", "title": "Polarization (mP)"}}, "color": {"field": "s", "type": "nominal"}}},
{"data": {"name": "pts"}, "transform": [{"filter": "datum.p == 'C'"}],
 "mark": {"type": "point", "filled": true, "size": 40, "opacity": 1},
 "encoding": {"x": {"field": "x", "type": "quantitative"}, "y": {"field": "y", "type": "quantitative", "axis": {"values": [0, 10, 20, 30, 40, 50], "tickCount": 6, "labelOverlap": false, "format": "d", "title": "Polarization (mP)"}}, "color": {"field": "s", "type": "nominal"}}}
]
},
{
"name": "pD",
"width": 232, "height": 168,
"title": {"text": "D", "anchor": "start", "frame": "group", "dx": -38, "offset": 35},
"layer": [
{"data": {"name": "fit"}, "transform": [{"filter": "datum.p == 'D'"}],
 "mark": {"type": "line", "interpolate": "monotone", "strokeWidth": 2},
 "encoding": {
  "x": {"field": "x", "type": "quantitative", "scale": {"domain": [0, 2000], "nice": false}, "axis": {"values": [0, 400, 800, 1200, 1600, 2000], "format": "d", "title": "ComR Protein Concentration (nM)"}},
  "y": {"field": "y", "type": "quantitative", "scale": {"domain": [0, 50], "nice": false, "range": [168, 14]}, "axis": {"values": [0, 10, 20, 30, 40, 50], "tickCount": 6, "labelOverlap": false, "format": "d", "title": "Polarization (mP)"}},
  "color": {"field": "s", "type": "nominal", "scale": {"domain": ["0", "1 µM", "10 µM", "100 µM"], "range": ["#000000", "#3a53a4", "#ed1c24", "#6abd45"]},
   "legend": {"orient": "none", "legendX": 247, "legendY": -7, "title": ["sXIP", "─────────"], "titleAnchor": "middle", "titleAlign": "center", "titleLineHeight": 8, "titlePadding": -3, "symbolOffset": 10, "rowPadding": 3, "labelOffset": 1}}
 }},
{"data": {"name": "pts"}, "transform": [{"filter": "datum.p == 'D'"}],
 "mark": {"type": "rule", "strokeWidth": 2},
 "encoding": {"x": {"field": "x", "type": "quantitative"}, "y": {"field": "lo", "type": "quantitative", "axis": {"values": [0, 10, 20, 30, 40, 50], "tickCount": 6, "labelOverlap": false, "format": "d", "title": "Polarization (mP)"}}, "y2": {"field": "hi"}, "color": {"field": "s", "type": "nominal"}}},
{"data": {"name": "pts"}, "transform": [{"filter": "datum.p == 'D'"}],
 "mark": {"type": "point", "shape": "stroke", "size": 64, "strokeWidth": 2, "filled": false, "opacity": 1},
 "encoding": {"x": {"field": "x", "type": "quantitative"}, "y": {"field": "lo", "type": "quantitative", "axis": {"values": [0, 10, 20, 30, 40, 50], "tickCount": 6, "labelOverlap": false, "format": "d", "title": "Polarization (mP)"}}, "color": {"field": "s", "type": "nominal"}}},
{"data": {"name": "pts"}, "transform": [{"filter": "datum.p == 'D'"}],
 "mark": {"type": "point", "shape": "stroke", "size": 64, "strokeWidth": 2, "filled": false, "opacity": 1},
 "encoding": {"x": {"field": "x", "type": "quantitative"}, "y": {"field": "hi", "type": "quantitative", "axis": {"values": [0, 10, 20, 30, 40, 50], "tickCount": 6, "labelOverlap": false, "format": "d", "title": "Polarization (mP)"}}, "color": {"field": "s", "type": "nominal"}}},
{"data": {"name": "pts"}, "transform": [{"filter": "datum.p == 'D'"}],
 "mark": {"type": "point", "filled": true, "size": 40, "opacity": 1},
 "encoding": {"x": {"field": "x", "type": "quantitative"}, "y": {"field": "y", "type": "quantitative", "axis": {"values": [0, 10, 20, 30, 40, 50], "tickCount": 6, "labelOverlap": false, "format": "d", "title": "Polarization (mP)"}}, "color": {"field": "s", "type": "nominal"}}}
]
}
],
"config": {
 "font": "Liberation Sans",
 "view": {"stroke": null},
 "title": {"fontSize": 18, "fontWeight": "bold", "color": "#000000", "font": "Liberation Sans"},
 "axis": {"grid": false, "domainColor": "#000000", "domainWidth": 2, "tickColor": "#000000", "tickWidth": 2, "tickSize": 4,
  "labelFont": "Liberation Sans", "labelFontSize": 12, "labelFontWeight": "bold", "labelColor": "#000000", "labelPadding": 2, "labelFlush": false, "labelOverlap": false,
  "titleFont": "Liberation Sans", "titleFontSize": 13, "titleFontWeight": "bold", "titleColor": "#000000", "titlePadding": 3},
 "legend": {"labelFont": "Liberation Sans", "labelFontSize": 13, "labelColor": "#000000", "titleFont": "Liberation Sans", "titleFontSize": 12, "titleFontWeight": "normal", "titleColor": "#333333",
  "symbolType": "M-1,0H1M-0.4,0A0.4,0.4,0,1,0,0.4,0A0.4,0.4,0,1,0,-0.4,0Z", "symbolSize": 144, "symbolStrokeWidth": 2, "labelOffset": 4, "padding": 0}
}
}
